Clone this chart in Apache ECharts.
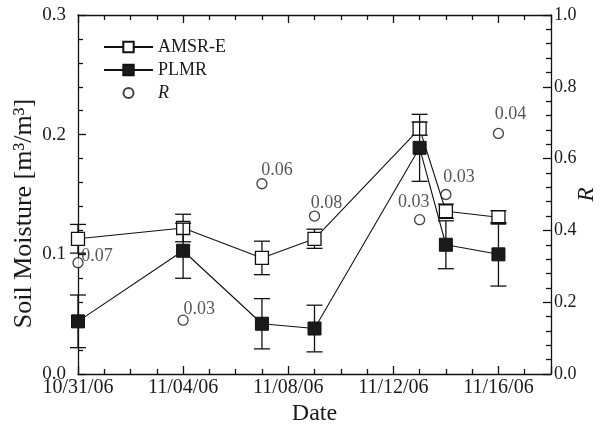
<!DOCTYPE html>
<html>
<head>
<meta charset="utf-8">
<script src="https://cdn.jsdelivr.net/npm/echarts@6/dist/echarts.min.js"></script>
<style>
  html, body { margin: 0; padding: 0; background: #fff; }
  #chart { width: 614px; height: 433px; }
</style>
</head>
<body>
<div id="chart"></div>
<script>
// data
var dates = ['2006-10-31', '2006-11-04', '2006-11-07', '2006-11-09', '2006-11-13', '2006-11-14', '2006-11-16'];
var amsrE = [0.113, 0.122, 0.097, 0.113, 0.205, 0.136, 0.131];
var amsrErr = [0.012, 0.0115, 0.014, 0.008, 0.0055, 0.006, 0.0055];
var plmr = [0.044, 0.103, 0.042, 0.038, 0.189, 0.108, 0.100];
var plmrErr = [0.022, 0.023, 0.021, 0.0195, 0.028, 0.020, 0.0265];
var rValues = [0.31, 0.15, 0.53, 0.44, 0.43, 0.50, 0.67];
var rLabels = ['0.07', '0.03', '0.06', '0.08', '0.03', '0.03', '0.04'];
var smTicks = [0, 0.1, 0.2, 0.3];
var rTicks = [0, 0.2, 0.4, 0.6, 0.8, 1.0];

var FONT = 'Liberation Serif';
var INK = '#1a1a1a';
var DAY = 864e5;
var t0 = Date.parse(dates[0] + 'T00:00:00Z');

function dayOf(d) {
  return Math.round((Date.parse(d + 'T00:00:00Z') - t0) / DAY);
}
function pad(n) { return n < 10 ? '0' + n : '' + n; }
function dateLabel(v) {
  var d = new Date(t0 + v * DAY);
  return pad(d.getUTCMonth() + 1) + '/' + pad(d.getUTCDate()) + '/' + pad(d.getUTCFullYear() % 100);
}

var xs = dates.map(dayOf);

// where each R note sits relative to its circle (dx to text left, dy to text middle)
var rLabelShift = [[4, -6], [1, -10], [0, -13], [-3, -12], [-21, -17], [-2, -17], [-3, -19]];

function errorBar(params, api) {
  var x = api.value(0), y = api.value(1), e = api.value(2);
  var top = api.coord([x, y + e]);
  var bot = api.coord([x, y - e]);
  var w = 8;
  var st = { stroke: '#111', lineWidth: 1.3 };
  return {
    type: 'group',
    children: [
      { type: 'line', shape: { x1: top[0], y1: top[1], x2: bot[0], y2: bot[1] }, style: st },
      { type: 'line', shape: { x1: top[0] - w, y1: top[1], x2: top[0] + w, y2: top[1] }, style: st },
      { type: 'line', shape: { x1: bot[0] - w, y1: bot[1], x2: bot[0] + w, y2: bot[1] }, style: st }
    ]
  };
}

var axisLine = { show: true, onZero: false, lineStyle: { color: '#111', width: 1.3 } };
var majorTick = { show: true, inside: true, length: 8, lineStyle: { color: '#111', width: 1.3 } };

function minorTick(n) {
  return { show: true, splitNumber: n, length: 5, lineStyle: { color: '#111', width: 1.3 } };
}

function xAxisCfg(pos, labels) {
  var cfg = {
    type: 'value',
    position: pos,
    min: 0,
    max: 18,
    interval: 4,
    axisLine: axisLine,
    axisTick: majorTick,
    minorTick: minorTick(4),
    splitLine: { show: false },
    axisLabel: {
      show: labels,
      formatter: dateLabel,
      fontFamily: FONT,
      fontSize: 20,
      color: INK,
      margin: 4,
      showMaxLabel: false
    }
  };
  if (labels) {
    cfg.name = 'Date';
    cfg.nameLocation = 'middle';
    cfg.nameGap = 28;
    cfg.nameMoveOverlap = false;
    cfg.nameTextStyle = { fontFamily: FONT, fontSize: 24, color: INK };
  }
  return cfg;
}

// small open circle for the legend, padded to the 13px icon box
var smallCircle = 'path://M0,0M13,13M11.5,6.5A5,5,0,1,1,1.5,6.5A5,5,0,1,1,11.5,6.5Z';

var myChart = echarts.init(document.getElementById('chart'));

var option = {
  animation: false,
  backgroundColor: '#fff',
  grid: { left: 78, right: 63, top: 15, bottom: 59, containLabel: false, outerBoundsMode: 'none' },
  legend: {
    orient: 'vertical',
    left: 103,
    top: 38,
    padding: 0,
    itemWidth: 49,
    itemHeight: 13,
    itemGap: 5,
    textStyle: {
      fontFamily: FONT,
      fontSize: 18,
      color: INK,
      rich: { i: { fontFamily: FONT, fontSize: 18, fontStyle: 'italic', color: INK } }
    },
    formatter: function (name) { return name === 'R' ? '{i|R}' : name; },
    data: ['AMSR-E', 'PLMR', { name: 'R', icon: smallCircle }]
  },
  xAxis: [
    xAxisCfg('bottom', true),
    xAxisCfg('top', false)
  ],
  yAxis: [
    {
      type: 'value',
      position: 'left',
      min: smTicks[0],
      max: smTicks[smTicks.length - 1],
      interval: smTicks[1] - smTicks[0],
      axisLine: axisLine,
      axisTick: majorTick,
      minorTick: minorTick(5),
      splitLine: { show: false },
      axisLabel: {
        formatter: function (v) { return v.toFixed(1); },
        fontFamily: FONT, fontSize: 19, color: INK, margin: 12
      },
      name: 'Soil Moisture [m\u00b3/m\u00b3]',
      nameLocation: 'middle',
      nameRotate: 90,
      nameGap: 41,
      nameMoveOverlap: false,
      nameTextStyle: { fontFamily: FONT, fontSize: 26, color: INK, padding: [0, 38, 0, 0] }
    },
    {
      type: 'value',
      position: 'right',
      min: rTicks[0],
      max: rTicks[rTicks.length - 1],
      interval: rTicks[1] - rTicks[0],
      axisLine: axisLine,
      axisTick: majorTick,
      minorTick: minorTick(5),
      splitLine: { show: false },
      axisLabel: {
        formatter: function (v) { return v.toFixed(1); },
        fontFamily: FONT, fontSize: 18, color: INK, margin: 3
      },
      name: 'R',
      nameLocation: 'middle',
      nameRotate: 90,
      nameGap: 24,
      nameMoveOverlap: false,
      nameTextStyle: { fontFamily: FONT, fontSize: 23, fontStyle: 'italic', color: INK }
    }
  ],
  series: [
    {
      name: 'AMSR-E err',
      type: 'custom',
      renderItem: errorBar,
      z: 2,
      encode: { x: 0, y: 1 },
      data: xs.map(function (x, i) { return [x, amsrE[i], amsrErr[i]]; })
    },
    {
      name: 'AMSR-E',
      type: 'line',
      z: 3,
      symbol: 'rect',
      symbolSize: 13,
      itemStyle: { color: '#fff', borderColor: '#111', borderWidth: 1.3 },
      lineStyle: { color: '#111', width: 1.1 },
      data: xs.map(function (x, i) { return [x, amsrE[i]]; })
    },
    {
      name: 'PLMR err',
      type: 'custom',
      renderItem: errorBar,
      z: 4,
      encode: { x: 0, y: 1 },
      data: xs.map(function (x, i) { return [x, plmr[i], plmrErr[i]]; })
    },
    {
      name: 'PLMR',
      type: 'line',
      z: 5,
      symbol: 'rect',
      symbolSize: 13,
      itemStyle: { color: '#1a1a1a', borderColor: '#111', borderWidth: 1 },
      lineStyle: { color: '#111', width: 1.1 },
      data: xs.map(function (x, i) { return [x, plmr[i]]; })
    },
    {
      name: 'R',
      type: 'scatter',
      yAxisIndex: 1,
      z: 6,
      symbol: 'circle',
      symbolSize: 10,
      itemStyle: { color: '#fff', borderColor: '#111', borderWidth: 1.3 },
      label: {
        show: true,
        fontFamily: FONT,
        fontSize: 18,
        color: '#2a2a2a',
        align: 'left',
        verticalAlign: 'middle',
        formatter: function (p) { return rLabels[p.dataIndex]; }
      },
      data: xs.map(function (x, i) {
        return {
          value: [x, rValues[i]],
          label: { position: [5 + rLabelShift[i][0], 5 + rLabelShift[i][1]] }
        };
      })
    }
  ]
};

myChart.setOption(option);
window.addEventListener('resize', function () {
  myChart.resize();
});
</script>
</body>
</html>
